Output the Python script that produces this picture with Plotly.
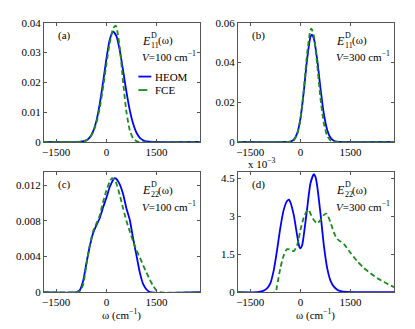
import plotly.graph_objects as go

# ---- data (omega in cm^-1) ----
# (a) E11, V=100
w_a_heom = [-1870, -800, -600, -500, -400, -300, -200, -100, 0, 100, 200, 300, 400, 500, 600, 700, 800, 900, 1000, 1100, 1200, 1400, 2800]
e_a_heom = [0, 0.00006, 0.00057, 0.0015, 0.0035, 0.0070, 0.0127, 0.0200, 0.0279, 0.0343, 0.0370, 0.0355, 0.0307, 0.0239, 0.0168, 0.0106, 0.0061, 0.0031, 0.0014, 0.0006, 0.0002, 0, 0]
w_a_fce = [-1870, -700, -600, -500, -400, -300, -200, -100, 0, 100, 200, 270, 300, 400, 500, 600, 700, 800, 900, 1000, 2800]
e_a_fce = [0, 0.0002, 0.0006, 0.0014, 0.0032, 0.0064, 0.0114, 0.0182, 0.0260, 0.0332, 0.0380, 0.0390, 0.0386, 0.0316, 0.0201, 0.0100, 0.0039, 0.0012, 0.0003, 0, 0]

# (b) E11, V=300
w_b_heom = [-1870, -400, -300, -200, -100, 0, 100, 200, 300, 340, 400, 500, 600, 700, 800, 900, 1000, 1100, 1200, 2800]
e_b_heom = [0, 0.00004, 0.00025, 0.0012, 0.0042, 0.0118, 0.0253, 0.0417, 0.0529, 0.0540, 0.0520, 0.0415, 0.0269, 0.0142, 0.0061, 0.0021, 0.0006, 0.00015, 0, 0]
w_b_fce = [-1870, -300, -200, -100, 0, 100, 200, 300, 330, 400, 500, 600, 700, 800, 900, 1000, 1100, 2800]
e_b_fce = [0, 0.0002, 0.0009, 0.0038, 0.0116, 0.0263, 0.0445, 0.0563, 0.0570, 0.0535, 0.0390, 0.0218, 0.0094, 0.0031, 0.0008, 0.0002, 0, 0]

# (c) E22, V=100
w_c_heom = [-1870, -900, -800, -700, -600, -500, -400, -300, -200, -100, 0, 100, 200, 250, 300, 400, 500, 600, 700, 800, 900, 1000, 1100, 1200, 1300, 2800]
e_c_heom = [0, 0, 0.0002, 0.0012, 0.0032, 0.0051, 0.0066, 0.0075, 0.0083, 0.0095, 0.0106, 0.0118, 0.0126, 0.0128, 0.0127, 0.0121, 0.0110, 0.0094, 0.0081, 0.0060, 0.0041, 0.0022, 0.0009, 0.0003, 0, 0]
w_c_fce = [-1870, -900, -800, -700, -600, -500, -400, -300, -200, -100, 0, 100, 170, 250, 300, 400, 500, 600, 700, 800, 900, 1000, 1100, 1200, 1300, 1400, 1500, 1600, 2800]
e_c_fce = [0, 0, 0.0001, 0.0008, 0.0030, 0.0052, 0.0068, 0.0077, 0.0086, 0.0101, 0.0114, 0.0124, 0.0128, 0.0126, 0.0122, 0.0109, 0.0094, 0.0080, 0.0068, 0.0057, 0.0047, 0.0039, 0.0030, 0.0022, 0.0014, 0.0007, 0.0002, 0, 0]

# (d) E22, V=300  (units of 1e-3)
w_d_heom = [-1870, -1300, -1200, -1100, -1000, -900, -800, -700, -600, -500, -400, -340, -300, -200, -100, -30, 0, 50, 100, 200, 300, 400, 450, 500, 600, 700, 800, 900, 1000, 1100, 1200, 1400, 2800]
e_d_heom = [0, 0, 0.02, 0.06, 0.15, 0.35, 0.85, 1.65, 2.55, 3.25, 3.60, 3.65, 3.55, 3.05, 2.25, 1.78, 1.73, 1.85, 2.25, 3.30, 4.30, 4.66, 4.55, 4.20, 3.10, 1.85, 0.95, 0.45, 0.22, 0.10, 0.04, 0.01, 0]
w_d_fce = [-1870, -750, -700, -600, -500, -400, -300, -200, -100, 0, 100, 200, 250, 300, 400, 500, 600, 700, 780, 900, 1000, 1100, 1200, 1300, 1500, 1700, 1900, 2100, 2300, 2500, 2700, 2800]
e_d_fce = [0, 0, 0.25, 0.95, 1.45, 1.70, 1.68, 1.62, 1.85, 2.45, 2.95, 3.22, 3.25, 3.10, 2.85, 2.72, 2.85, 3.05, 3.10, 2.75, 2.35, 2.10, 2.00, 1.90, 1.55, 1.22, 0.95, 0.74, 0.55, 0.40, 0.26, 0.20]

x_ticks = [-1500, 0, 1500]
y_ticks = [
    [0, 0.01, 0.02, 0.03, 0.04],
    [0, 0.02, 0.04, 0.06],
    [0, 0.004, 0.008, 0.012],
    [0, 1.5, 3, 4.5],
]
y_ranges = [[0, 0.04], [0, 0.06], [0, 0.0135], [0, 4.75]]
panel_labels = ["(a)", "(b)", "(c)", "(d)"]
sub_labels = ["11", "11", "22", "22"]
v_labels = ["100", "300", "100", "300"]

# the page body has an 8px margin, so the figure is a bit smaller and offset
OFF = 8
W, H = 415 - OFF, 329 - OFF
FONT = "Liberation Serif"
BLUE = "#0000ff"
GREEN = "#1a8c1a"


def px(x):
    return (x - OFF) / W


def py(y):
    return 1 - (y - OFF) / H


# panel boxes in screen pixels: (left, right, top, bottom)
boxes = [(42, 199, 17, 141), (237, 394, 17, 141), (42, 199, 172, 297), (237, 394, 172, 297)]

fig = go.Figure()
series = [
    (w_a_heom, e_a_heom, w_a_fce, e_a_fce),
    (w_b_heom, e_b_heom, w_b_fce, e_b_fce),
    (w_c_heom, e_c_heom, w_c_fce, e_c_fce),
    (w_d_heom, e_d_heom, w_d_fce, e_d_fce),
]
for i, (wh, eh, wf, ef) in enumerate(series):
    sfx = "" if i == 0 else str(i + 1)
    fig.add_trace(go.Scatter(x=wh, y=eh, mode="lines", name="HEOM", xaxis="x" + sfx, yaxis="y" + sfx,
                             line=dict(color=BLUE, width=1.8, shape="spline", smoothing=0.6), showlegend=False))
    fig.add_trace(go.Scatter(x=wf, y=ef, mode="lines", name="FCE", xaxis="x" + sfx, yaxis="y" + sfx,
                             line=dict(color=GREEN, width=1.8, dash="5px,3px", shape="spline", smoothing=0.6),
                             showlegend=False))

layout = dict(width=W, height=H, margin=dict(l=0, r=0, t=0, b=0),
              paper_bgcolor="white", plot_bgcolor="white",
              font=dict(family=FONT, size=11, color="black"))
axis_common = dict(showline=True, linecolor="#555", linewidth=1, mirror="ticks", ticks="inside",
                   ticklen=3, tickcolor="#555", showgrid=False, zeroline=False,
                   tickfont=dict(family=FONT, size=11, color="black"))
for i, (l, r, t, b) in enumerate(boxes):
    sfx = "" if i == 0 else str(i + 1)
    layout["xaxis" + sfx] = dict(axis_common, domain=[px(l), px(r)], range=[-1870, 2800],
                                 tickvals=x_ticks, anchor="y" + sfx)
    layout["yaxis" + sfx] = dict(axis_common, domain=[py(b), py(t)], range=y_ranges[i],
                                 tickvals=y_ticks[i], ticktext=[f"{v:g}" for v in y_ticks[i]],
                                 anchor="x" + sfx)
fig.update_layout(**layout)

ann = []
shapes = []
for i, (l, r, t, b) in enumerate(boxes):
    dx = l - 42
    dy = t - 17
    ann.append(dict(x=px(63 + dx), y=py(30 + dy), text=panel_labels[i], font=dict(size=11)))
    ann.append(dict(x=px(139 + dx), y=py(36 + dy), text="<i>E</i>", xanchor="left", font=dict(size=12)))
    ann.append(dict(x=px(147.5 + dx), y=py(30.5 + dy), text="D", xanchor="left", font=dict(size=8)))
    ann.append(dict(x=px(147.5 + dx), y=py(41 + dy), text=sub_labels[i], xanchor="left", font=dict(size=8)))
    ann.append(dict(x=px(155 + dx), y=py(36 + dy), text="(ω)", xanchor="left", font=dict(size=11)))
    ann.append(dict(x=px(139 + dx), y=py(52 + dy), text="<i>V</i>=" + v_labels[i] + " cm<sup>−1</sup>",
                    xanchor="left", font=dict(size=11)))

# legend in panel (a)
for yy, col, dash, label in [(73, BLUE, "solid", "HEOM"), (87, GREEN, "dash", "FCE")]:
    shapes.append(dict(type="line", xref="paper", yref="paper", x0=px(137), x1=px(150), y0=py(yy), y1=py(yy),
                       line=dict(color=col, width=1.8, dash=dash)))
    ann.append(dict(x=px(152), y=py(yy), text=label, xanchor="left", font=dict(size=11)))

# exponent label for (d) and axis titles
ann.append(dict(x=px(245), y=py(163), text="x 10<sup>−3</sup>", xanchor="left", font=dict(size=11)))
for l, r in [(42, 199), (237, 394)]:
    ann.append(dict(x=px((l + r) / 2), y=py(320), text="ω (cm<sup>−1</sup>)", font=dict(size=11)))

for a in ann:
    a.update(xref="paper", yref="paper", showarrow=False)
    a.setdefault("xanchor", "center")
    a["yanchor"] = "middle"
    a["font"] = dict(family=FONT, color="black", **a["font"])
fig.update_layout(annotations=ann, shapes=shapes)

fig.write_html("out.html")
